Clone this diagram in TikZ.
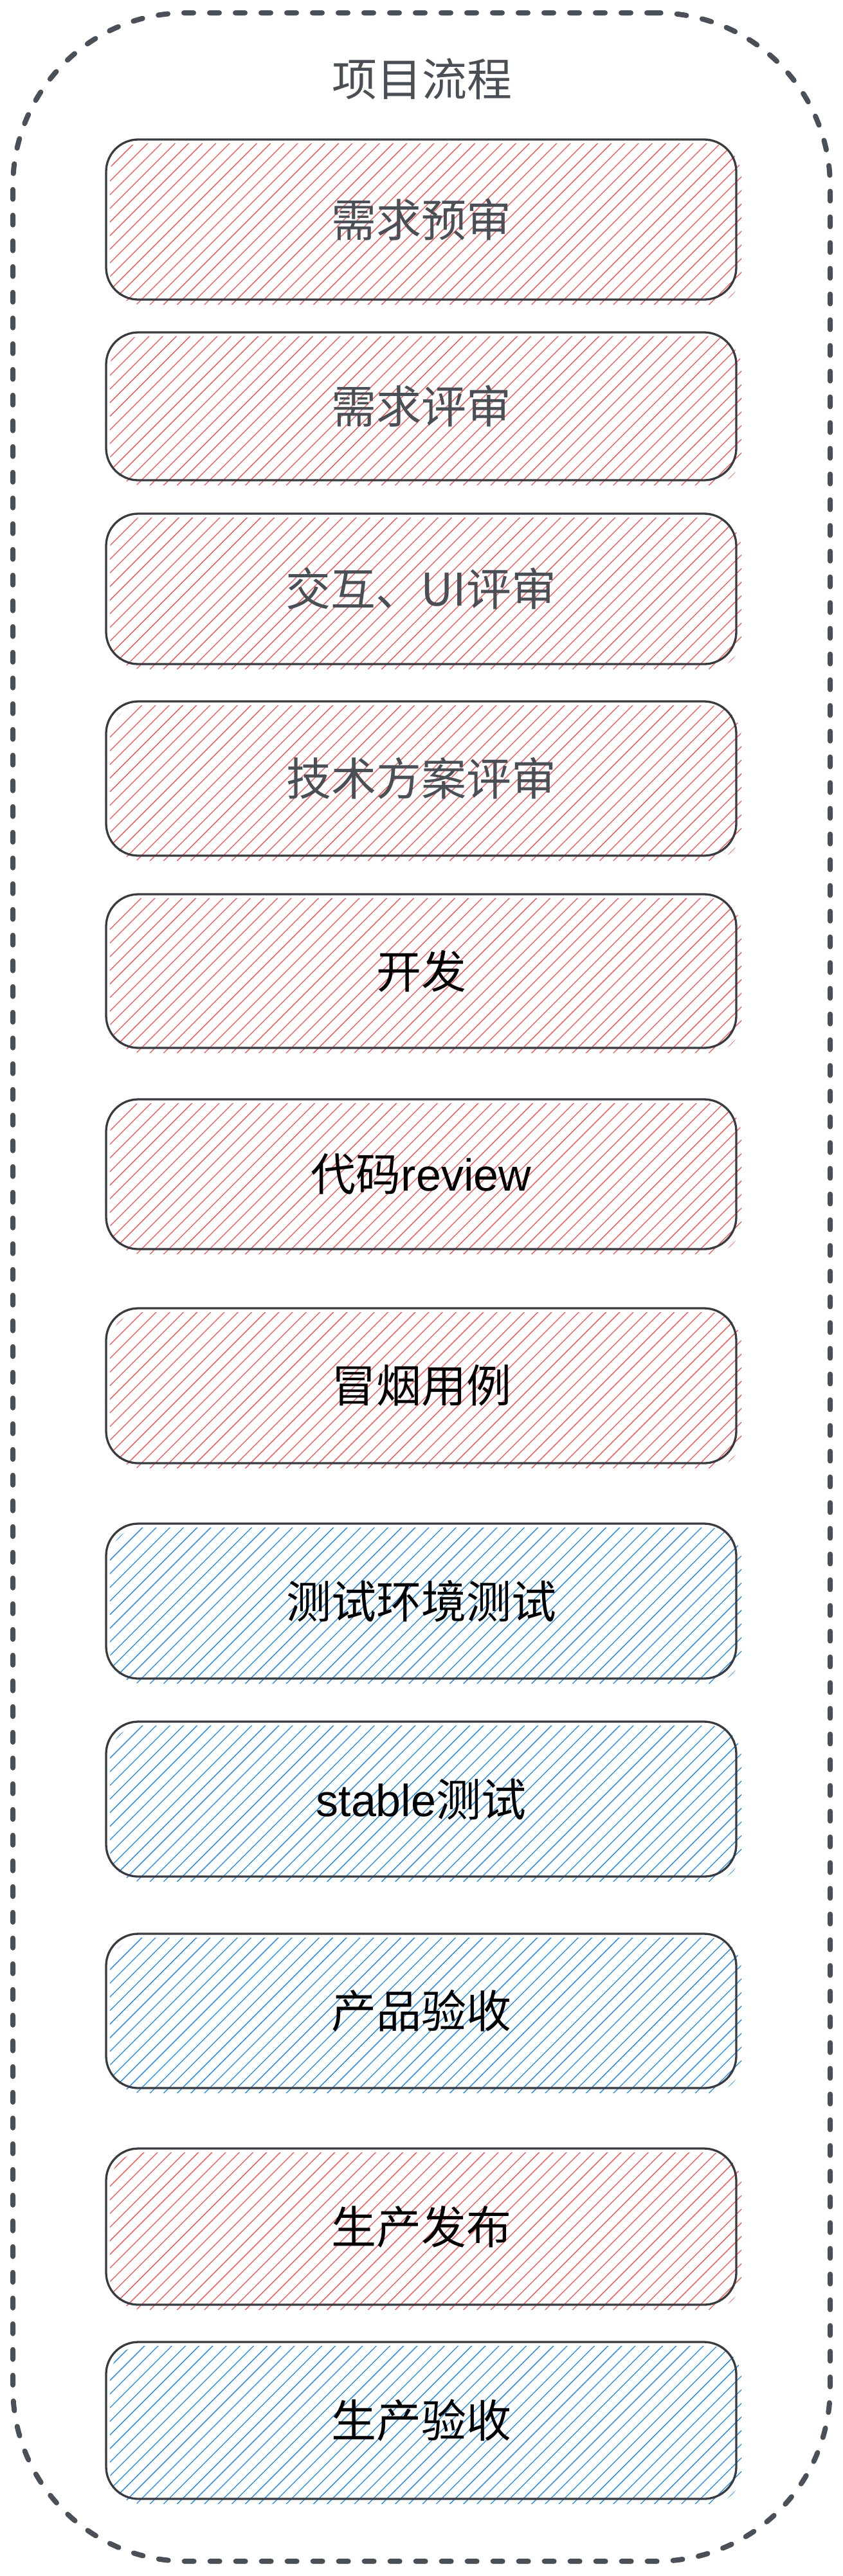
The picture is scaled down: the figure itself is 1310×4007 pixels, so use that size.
\documentclass[tikz,border=0pt]{standalone}
\usepackage{fontspec}
\setmainfont{Noto Sans CJK SC}
\newfontfamily\latfont{Liberation Sans}
\definecolor{framegray}{HTML}{4A5058}
\definecolor{boxline}{HTML}{383B40}
\definecolor{txtgray}{HTML}{4A4F55}
\definecolor{hred}{HTML}{F25555}
\definecolor{hblue}{HTML}{2188E5}
\tikzset{
  framebox/.style={draw=framegray, line width=8pt, dash pattern=on 15pt off 25pt, line cap=round, rounded corners=270pt, inner sep=0pt},
  stagebox/.style={draw=boxline, line width=3.3pt, rounded corners=50pt, minimum width=980pt, inner sep=0pt, font=\fontsize{70}{84}\selectfont},
  titletext/.style={text=txtgray, inner sep=0pt, font=\fontsize{70}{84}\selectfont},
  hatchline/.style={line width=1.3pt}
}
% #1 name, #2 top, #3 bottom, #4 centre y, #5 height, #6 hatch colour, #7 text colour, #8 text
\newcommand\stagenode[8]{%
  \begin{scope}
    \clip[rounded corners=50pt] (171,#2+6) rectangle (1153,#3+8);
    \foreach \t in {-110,-88.8,...,1160}{
      \draw[hatchline, #6] (\t,#3+12) -- ++(290,-290);
    }
  \end{scope}
  \node[stagebox, text=#7, minimum height=#5pt] (#1) at (655,#4) {#8};
}
\begin{document}
\begin{tikzpicture}[x=1pt,y=-1pt]
  \useasboundingbox (0,0) rectangle (1310,4007);
  \node[framebox, minimum width=1271pt, minimum height=3964pt] (frame) at (655.5,2002) {};
  \node[titletext] (title) at (656,123) {项目流程};
  \stagenode{s1}{217}{466}{341.5}{249}{hred}{txtgray}{需求预审}
  \stagenode{s2}{517}{747}{632}{230}{hred}{txtgray}{需求评审}
  \stagenode{s3}{799}{1033}{916}{234}{hred}{txtgray}{交互、UI评审}
  \stagenode{s4}{1091}{1331}{1211}{240}{hred}{txtgray}{技术方案评审}
  \stagenode{s5}{1391}{1630}{1510.5}{239}{hred}{black}{开发}
  \stagenode{s6}{1710}{1943}{1826.5}{233}{hred}{black}{代码{\latfont review}}
  \stagenode{s7}{2035}{2276}{2155.5}{241}{hred}{black}{冒烟用例}
  \stagenode{s8}{2370}{2611}{2490.5}{241}{hblue}{black}{测试环境测试}
  \stagenode{s9}{2678}{2919}{2798.5}{241}{hblue}{black}{{\latfont stable}测试}
  \stagenode{s10}{3008}{3248}{3128}{240}{hblue}{black}{产品验收}
  \stagenode{s11}{3342}{3585}{3463.5}{243}{hred}{black}{生产发布}
  \stagenode{s12}{3643}{3887}{3765}{244}{hblue}{black}{生产验收}
\end{tikzpicture}
\end{document}
